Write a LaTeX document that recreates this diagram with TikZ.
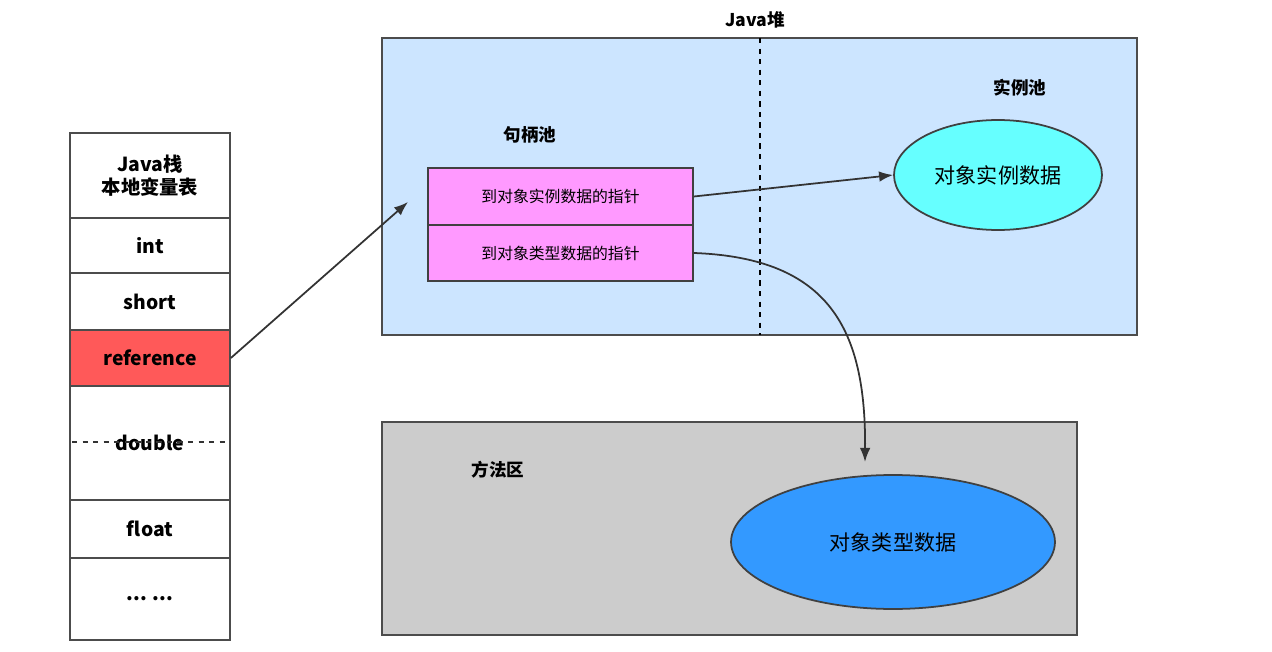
\documentclass[tikz,border=0pt]{standalone}
\usepackage{fontspec}
\setmainfont{Noto Sans CJK SC}
\usetikzlibrary{arrows.meta,shapes.geometric}
\definecolor{heapblue}{RGB}{204,229,255}
\definecolor{ptrpink}{RGB}{255,153,255}
\definecolor{instcyan}{RGB}{102,255,255}
\definecolor{typeblue}{RGB}{51,153,255}
\tikzset{
	cell/.style={draw=black!70, line width=1pt, minimum width=3.2cm, inner sep=0pt, font=\bfseries\fontsize{11}{13}\selectfont},
	ptr/.style={draw=black!75, line width=1pt, fill=ptrpink, minimum width=5.3cm, minimum height=1.13cm, font=\fontsize{9}{11}\selectfont},
	area/.style={draw=black!70, line width=1.2pt},
	lbl/.style={font=\bfseries\fontsize{10}{12}\selectfont},
	link/.style={-{Latex[length=8pt,width=6pt]}, line width=1pt, draw=black!80}
}
\begin{document}
\begin{tikzpicture}[x=0.02cm, y=-0.02cm]
		\useasboundingbox (0,0) rectangle (1272,652);
		% stack
		\node[cell, minimum height=1.7cm, align=center] (head) at (150,175.5) {Java栈\\本地变量表};
		\node[cell, minimum height=1.1cm] (int) at (150,245.5) {int};
		\node[cell, minimum height=1.14cm] (short) at (150,301.5) {short};
		\node[cell, minimum height=1.12cm, fill=red!65] (ref) at (150,358) {reference};
		\node[cell, minimum height=2.28cm] (dbl) at (150,443) {double};
		\draw[dashed, line width=1pt, black!80] (72,442) -- (228,442);
		\node[cell, minimum height=1.16cm] (flt) at (150,529) {float};
		\node[cell, minimum height=1.64cm] (dots) at (150,599) {... ...};
		% heap
		\fill[heapblue] (382,38) rectangle (1137,335);
		\draw[area] (382,38) rectangle (1137,335);
		\draw[dashed, line width=1pt] (760,38) -- (760,335);
		\node[lbl] at (755,20) {Java堆};
		\node[lbl] at (530,135) {句柄池};
		\node[lbl] at (1020,88) {实例池};
		\node[ptr] (p1) at (560.5,196.5) {到对象实例数据的指针};
		\node[ptr] (p2) at (560.5,253) {到对象类型数据的指针};
		\node[ellipse, draw=black!75, line width=1pt, fill=instcyan, minimum width=4.16cm, minimum height=2.2cm, font=\fontsize{12}{14}\selectfont] (inst) at (998,175) {对象实例数据};
		% method area
		\fill[black!20] (382,422) rectangle (1077,635);
		\draw[area] (382,422) rectangle (1077,635);
		\node[lbl] at (498,470) {方法区};
		\node[ellipse, draw=black!75, line width=1pt, fill=typeblue, minimum width=6.48cm, minimum height=2.68cm, font=\fontsize{12}{14}\selectfont] (type) at (893,542) {对象类型数据};
		% links
		\coordinate (hp) at (408,202);
		\coordinate (tp) at (865,462);
		\draw[link] (ref.east) -- (hp);
		\draw[link] (p1.east) -- (inst.west);
		\draw[link] (p2.east) .. controls (830,258) and (866,330) .. (tp);
	\end{tikzpicture}
\end{document}
